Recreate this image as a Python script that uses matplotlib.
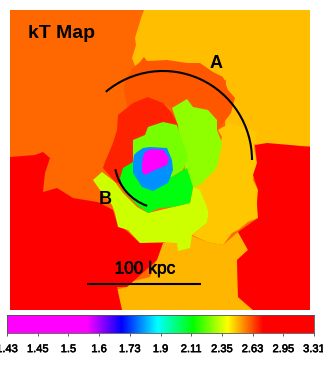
# -*- coding:utf-8 -*-
import numpy as np
import matplotlib
matplotlib.use('Agg')
import matplotlib.pyplot as plt
import matplotlib.patheffects as pe
from matplotlib.colors import LinearSegmentedColormap
from matplotlib.patches import Polygon, Arc

plt.rcParams['font.family'] = ['Liberation Sans', 'DejaVu Sans']

tick_labels = ['1.43', '1.45', '1.5', '1.6', '1.73', '1.9', '2.11', '2.35', '2.63', '2.95', '3.31']
tick_values = [1.43, 1.45, 1.5, 1.6, 1.73, 1.9, 2.11, 2.35, 2.63, 2.95, 3.31]

# outlines, in image pixels
bg_orange = [(10, 10), (310, 10), (310, 310), (10, 310)]
top_amber = [(144, 10), (310, 10), (310, 146), (256, 145), (225, 125), (226, 80), (145, 62), (135, 66), (132, 58),
             (136, 45), (135, 38), (139, 25), (141, 18)]
shell_a = [(125, 80), (133, 68), (140, 62), (144, 57), (147, 61), (167, 60), (187, 63), (200, 63), (213, 72), (223, 77),
           (228, 90), (235, 98), (231, 113), (218, 130), (180, 127), (170, 107), (150, 97), (127, 107), (124, 90)]
shell_red = [(118, 115), (133, 103), (148, 97), (163, 103), (172, 113), (178, 125), (178, 135), (170, 160), (135, 190),
             (115, 182), (103, 168), (105, 162), (113, 143), (117, 130)]
lobe_lime = [(172, 108), (187, 99), (193, 107), (208, 110), (217, 120), (217, 130), (222, 143), (217, 167), (213, 172),
             (200, 185), (193, 187), (185, 170), (178, 125)]
inner_lime = [(133, 140), (145, 135), (148, 127), (163, 122), (177, 125), (182, 140), (188, 155), (183, 170), (172, 177),
              (150, 175), (133, 162)]
core_green = [(123, 168), (133, 162), (150, 175), (172, 177), (187, 168), (193, 187), (190, 203), (173, 207), (160, 208),
              (148, 213), (137, 205), (123, 190), (120, 178)]
core_blue = [(133, 162), (134, 155), (137, 152), (143, 148), (150, 147), (167, 148), (172, 160), (173, 170), (168, 183),
             (153, 191), (142, 187), (133, 173)]
core_magenta = [(142, 165), (143, 157), (145, 152), (152, 149), (163, 150), (169, 158), (167, 165), (155, 170), (145, 175),
                (142, 172)]
bottom_yellow = [(93, 180), (102, 172), (115, 182), (123, 193), (137, 207), (148, 213), (190, 203), (193, 187), (200, 190),
                 (208, 210), (208, 217), (207, 223), (192, 235), (190, 248), (178, 251), (177, 243), (163, 242), (140, 243),
                 (128, 230), (118, 227), (115, 213), (112, 205), (100, 190)]
right_gold = [(218, 130), (230, 123), (257, 132), (254, 147), (257, 163), (253, 180), (258, 190), (257, 203), (258, 218),
              (248, 222), (238, 230), (232, 233), (223, 245), (207, 242), (192, 235), (207, 223), (208, 210), (193, 187),
              (190, 165), (213, 170), (217, 157), (222, 137)]
bottom_amber = [(163, 243), (190, 235), (207, 242), (223, 245), (238, 232), (248, 250), (237, 260), (238, 297), (253, 310),
                (122, 310), (116, 290), (126, 287), (117, 285), (150, 277)]
left_red = [(10, 157), (35, 155), (43, 152), (50, 158), (45, 173), (43, 192), (57, 188), (73, 198), (97, 202), (100, 203),
            (113, 210), (117, 223), (128, 232), (140, 243), (163, 243), (157, 260), (127, 287), (117, 287), (122, 310),
            (10, 310)]
right_red = [(255, 145), (267, 143), (290, 145), (310, 147), (310, 310), (253, 310), (238, 297), (237, 260), (248, 250),
             (238, 232), (258, 218), (257, 203), (258, 190), (253, 175), (257, 163)]

# paint order and kT of each region
regions = [(bg_orange, 2.59), (top_amber, 2.48), (shell_a, 2.62), (right_gold, 2.47), (bottom_amber, 2.49),
           (left_red, 3.0), (right_red, 3.0), (shell_red, 2.69), (bottom_yellow, 2.34), (lobe_lime, 2.28),
           (inner_lime, 2.25), (core_green, 2.11), (core_blue, 1.80), (core_magenta, 1.43)]

cmap = LinearSegmentedColormap.from_list('ktmap', [(0.0, '#ff00ff'), (0.26, '#ff00ff'), (0.373, '#0000ff'), (0.49, '#00ffff'),
                                                   (0.607, '#00ff00'), (0.72, '#ffff00'), (0.835, '#ff0000'), (1.0, '#ff0000')])

def bar_pos(kt):
    return np.interp(kt, tick_values, np.linspace(0, 1, len(tick_values)))

fig = plt.figure(figsize=(3.23, 3.65), dpi=100)
ax = fig.add_axes([0, 0, 1, 1])
ax.set_xlim(0, 323)
ax.set_ylim(365, 0)
ax.axis('off')

for outline, kt in regions:
    ax.add_patch(Polygon(outline, closed=True, facecolor=cmap(bar_pos(kt)), edgecolor='none'))

ax.add_patch(Arc((163, 160), 178, 178, theta1=230, theta2=360, color='black', lw=1.5))
ax.add_patch(Arc((163, 160), 97, 97, theta1=109, theta2=169, color='black', lw=1.5))
ax.plot([87, 201], [284, 284], color='black', lw=1.5, solid_capstyle='butt')

heavier = [pe.withStroke(linewidth=0.4, foreground='black')]

ax.text(28, 34, 'kT Map', fontsize=14, fontweight='bold', va='center', ha='left')
ax.text(216, 64, 'A', fontsize=13, fontweight='bold', va='center', ha='center')
ax.text(105, 200, 'B', fontsize=13, fontweight='bold', va='center', ha='center')
ax.text(145, 269, '100 kpc', fontsize=12.5, va='center', ha='center', path_effects=heavier)

cax = fig.add_axes([7 / 323, 32 / 365, 307 / 323, 18.5 / 365])
cax.imshow(np.linspace(0, 1, 512).reshape(1, -1), cmap=cmap, aspect='auto', extent=(0, 1, 0, 1), vmin=0, vmax=1)
cax.set_yticks([])
cax.set_xticks(np.linspace(0, 1, len(tick_labels)))
cax.set_xticklabels(tick_labels, fontsize=8, path_effects=heavier)
cax.tick_params(axis='x', length=2.5, width=0.6, pad=5.5, color='#444444')
for s in cax.spines.values():
    s.set_linewidth(0.6)
    s.set_color('#555555')

plt.savefig('out.png', dpi=100)
